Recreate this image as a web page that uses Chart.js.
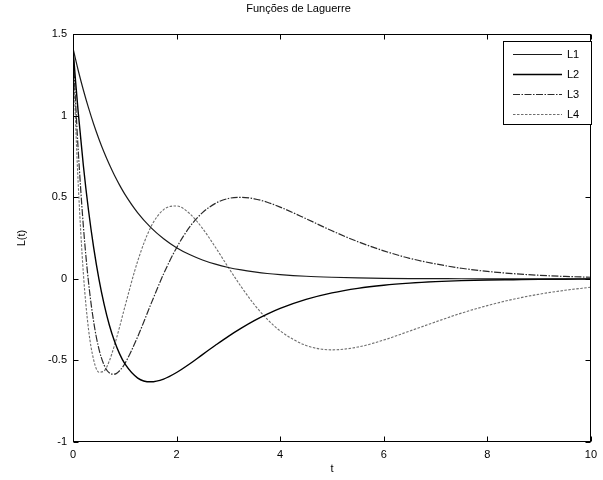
<!DOCTYPE html>
<html><head><meta charset="utf-8">
<script src="https://cdn.jsdelivr.net/npm/chart.js@4/dist/chart.umd.min.js"></script>
<style>html,body{margin:0;padding:0;background:#fff}#wrap{width:603px;height:480px}</style>
</head><body><div id="wrap"><canvas id="c" width="603" height="480"></canvas></div>
<script>
const chartTitle = 'Funções de Laguerre';
const xLabel = 't';
const yLabel = 'L(t)';
const seriesNames = ['L1', 'L2', 'L3', 'L4'];
const tValues = [0,0.05,0.1,0.2,0.3,0.4,0.5,0.6,0.7,0.8,0.9,1,1.25,1.5,1.75,2,2.25,2.5,2.75,3,3.25,3.5,3.75,4,4.5,5,5.5,6,6.5,7,7.5,8,8.5,9,9.5,10];
const L1 = [1.414,1.345,1.279,1.158,1.048,0.948,0.858,0.776,0.702,0.635,0.575,0.520,0.405,0.316,0.246,0.191,0.149,0.116,0.090,0.070,0.055,0.043,0.033,0.026,0.016,0.010,0.006,0.0035,0.002,0.0013,0.0008,0.0005,0.0003,0.0002,0.0001,0.0001];
const L2 = [1.414,1.210,1.024,0.695,0.419,0.190,0,-0.155,-0.281,-0.381,-0.460,-0.520,-0.608,-0.631,-0.614,-0.574,-0.522,-0.464,-0.407,-0.352,-0.302,-0.256,-0.216,-0.181,-0.126,-0.086,-0.058,-0.039,-0.026,-0.017,-0.011,-0.007,-0.005,-0.003,-0.002,-0.001];
const L3 = [1.414,1.083,0.793,0.324,-0.021,-0.265,-0.429,-0.528,-0.576,-0.584,-0.563,-0.520,-0.354,-0.158,0.031,0.191,0.317,0.406,0.463,0.493,0.500,0.491,0.470,0.440,0.369,0.295,0.228,0.172,0.126,0.092,0.065,0.046,0.032,0.022,0.015,0.010];
const L4 = [1.414,0.961,0.587,0.034,-0.310,-0.498,-0.572,-0.565,-0.504,-0.408,-0.294,-0.173,0.110,0.316,0.425,0.447,0.401,0.310,0.194,0.070,-0.049,-0.157,-0.247,-0.319,-0.408,-0.435,-0.418,-0.375,-0.320,-0.264,-0.210,-0.164,-0.125,-0.094,-0.070,-0.051];
const xTicks = [0,2,4,6,8,10];
const yTicks = [-1,-0.5,0,0.5,1,1.5];

const FONT = "'Liberation Sans', Arial, Helvetica, sans-serif";
const seriesValues = [L1, L2, L3, L4];
const styles = [
  {color:'#1a1a1a', width:1.2, dash:[]},
  {color:'#000000', width:1.4, dash:[]},
  {color:'#2a2a2a', width:1.2, dash:[7,1.5,1.5,1.5]},
  {color:'#6e6e6e', width:1.1, dash:[2.5,1.5]}
];

const datasets = seriesNames.map((name, i) => ({
  label: name,
  data: tValues.map((t, k) => ({x: t, y: seriesValues[i][k]})),
  borderColor: styles[i].color,
  borderWidth: styles[i].width,
  borderDash: styles[i].dash,
  pointRadius: 0,
  fill: false,
  cubicInterpolationMode: 'monotone'
}));

const framePlugin = {
  id: 'frame',
  afterDatasetsDraw(chart) {
    const {ctx, chartArea: a, scales: {x, y}} = chart;
    ctx.save();
    ctx.strokeStyle = '#000';
    ctx.lineWidth = 1;
    ctx.setLineDash([]);
    const L = Math.round(a.left) + 0.5, R = Math.round(a.right) - 0.5;
    const T = Math.round(a.top) + 0.5, B = Math.round(a.bottom) - 0.5;
    ctx.strokeRect(L, T, R - L, B - T);
    const tl = 5;
    ctx.beginPath();
    xTicks.forEach(v => {
      const px = Math.round(x.getPixelForValue(v)) + 0.5;
      ctx.moveTo(px, B); ctx.lineTo(px, B - tl);
      ctx.moveTo(px, T); ctx.lineTo(px, T + tl);
    });
    yTicks.forEach(v => {
      const py = Math.round(y.getPixelForValue(v)) + 0.5;
      ctx.moveTo(L, py); ctx.lineTo(L + tl, py);
      ctx.moveTo(R, py); ctx.lineTo(R - tl, py);
    });
    ctx.stroke();

    // legend box
    const bx = 503.5, by = 41.5, bw = 88, bh = 83;
    ctx.fillStyle = '#fff';
    ctx.fillRect(bx, by, bw, bh);
    ctx.strokeRect(bx, by, bw, bh);
    ctx.font = '11px ' + FONT;
    ctx.textBaseline = 'middle';
    ctx.textAlign = 'left';
    seriesNames.forEach((name, i) => {
      const ry = Math.round(by + 12 + i * 20) + 0.5;
      ctx.save();
      ctx.strokeStyle = styles[i].color;
      ctx.lineWidth = styles[i].width;
      ctx.setLineDash(styles[i].dash);
      ctx.beginPath();
      ctx.moveTo(513, ry); ctx.lineTo(562, ry);
      ctx.stroke();
      ctx.restore();
      ctx.fillStyle = '#000';
      ctx.fillText(name, 567, ry);
    });
    ctx.restore();
  }
};

new Chart(document.getElementById('c'), {
  type: 'line',
  data: {datasets},
  options: {
    responsive: false,
    devicePixelRatio: 1,
    animation: false,
    layout: {padding: {left: 0, right: 6, top: 0, bottom: 0}},
    plugins: {
      legend: {display: false},
      tooltip: {enabled: false},
      title: {
        display: true, text: chartTitle, color: '#000',
        font: {family: FONT, size: 11, weight: 'normal', lineHeight: 1.2},
        padding: {top: 2, bottom: 19}
      }
    },
    scales: {
      x: {
        type: 'linear', min: 0, max: 10,
        afterFit: s => { s.height = 38; },
        afterBuildTicks: s => { s.ticks = xTicks.map(v => ({value: v})); },
        ticks: {color: '#000', font: {family: FONT, size: 11}, padding: 6, maxRotation: 0,
                callback: v => String(v)},
        grid: {display: false, drawTicks: false},
        border: {display: false},
        title: {display: true, text: xLabel, color: '#000', font: {family: FONT, size: 11},
                padding: {top: 0, bottom: 4}}
      },
      y: {
        type: 'linear', min: -1, max: 1.5,
        afterFit: s => { s.width = 73; },
        afterBuildTicks: s => { s.ticks = yTicks.map(v => ({value: v})); },
        ticks: {color: '#000', font: {family: FONT, size: 11}, padding: 6,
                callback: v => String(v)},
        grid: {display: false, drawTicks: false},
        border: {display: false},
        title: {display: true, text: yLabel, color: '#000', font: {family: FONT, size: 11},
                padding: {top: 15, bottom: 0}}
      }
    }
  },
  plugins: [framePlugin]
});
</script>
</body></html>
